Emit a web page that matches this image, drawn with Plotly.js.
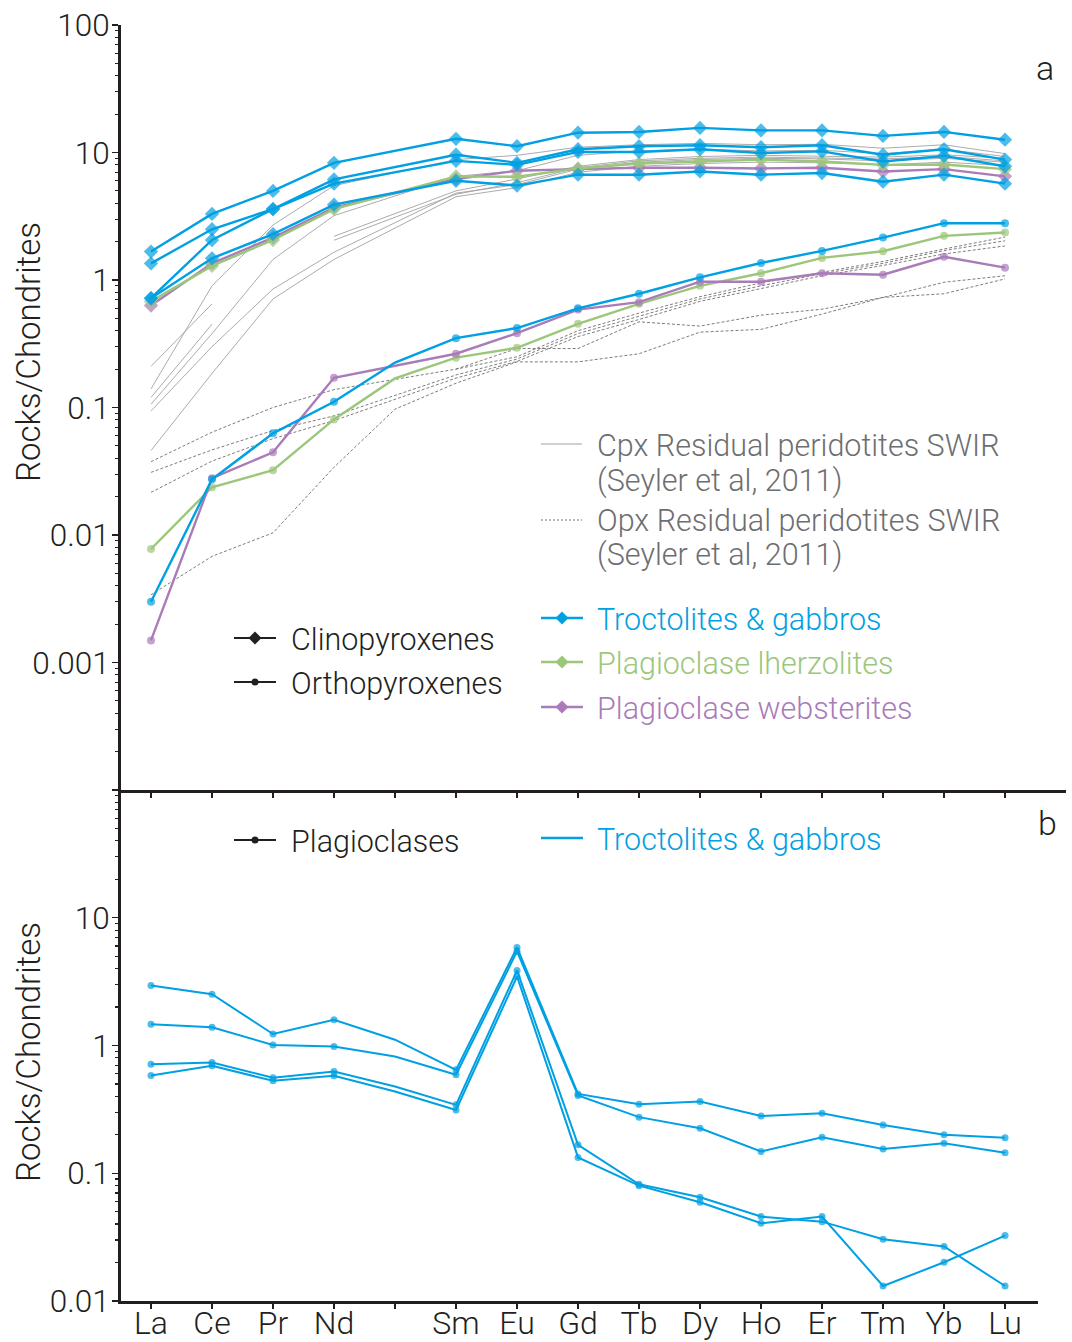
<!DOCTYPE html>
<html><head><meta charset="utf-8">
<script src="https://cdn.plot.ly/plotly-3.0.1.min.js"></script>
<style>html,body{margin:0;padding:0;background:#fff}#chart{width:1072px;height:1342px}</style>
</head><body><div id="chart"></div>
<script>
// ---------- categories ----------
const elements   = ['La','Ce','Pr','Nd','Pm','Sm','Eu','Gd','Tb','Dy','Ho','Er','Tm','Yb','Lu'];
const tickLabels = ['La','Ce','Pr','Nd','','Sm','Eu','Gd','Tb','Dy','Ho','Er','Tm','Yb','Lu'];

// ---------- panel a : clinopyroxenes (diamonds) ----------
const cpxTroct1 = [1.67, 3.3, 5.0, 8.3, null, 12.8, 11.2, 14.3, 14.5, 15.6, 14.9, 14.9, 13.5, 14.5, 12.6];
const cpxTroct2 = [1.35, 2.5, 3.6, 6.15, null, 9.6, 8.3, 10.6, 11.2, 11.4, 11.0, 11.4, 9.6, 10.6, 8.8];
const cpxTroct3 = [0.72, 2.06, 3.6, 5.7, null, 8.6, 8.0, 10.1, 10.1, 10.6, 9.9, 10.2, 8.5, 9.4, 7.8];
const cpxTroct4 = [0.72, 1.48, 2.29, 3.9, null, 6.0, 5.5, 6.7, 6.7, 7.1, 6.7, 6.9, 5.9, 6.7, 5.7];
const cpxLherz  = [0.68, 1.29, 2.06, 3.6, null, 6.5, 6.45, 7.5, 8.2, 8.5, 8.8, 8.5, 8.0, 8.05, 7.4];
const cpxWebst  = [0.63, 1.35, 2.15, 3.7, null, 6.2, 7.2, 7.4, 7.6, 7.6, 7.5, 7.6, 7.1, 7.4, 6.5];

// ---------- panel a : orthopyroxenes (dots) ----------
const opxTroct = [0.0030, 0.0274, 0.0627, 0.111, 0.225, 0.35, 0.42, 0.60, 0.78, 1.05, 1.36, 1.69, 2.15, 2.79, 2.79];
const opxLherz = [0.00777, 0.0237, 0.0322, 0.0806, 0.169, 0.246, 0.294, 0.453, 0.65, 0.90, 1.13, 1.49, 1.68, 2.22, 2.36];
const opxWebst = [0.00149, 0.0279, 0.0445, 0.171, null, 0.264, 0.383, 0.586, 0.67, 0.97, 0.97, 1.13, 1.10, 1.52, 1.25];

// ---------- panel a : Seyler et al. 2011 residual peridotites ----------
const seylerCpx1 = [0.21, 0.65, null, null, null, null, null, null, null, null, null, null, null, null, null];
const seylerCpx2 = [0.14, 0.9, 2.7, 5.5, null, 8.8, 9.5, 11.0, 11.5, 11.8, 11.5, 11.6, 10.8, 11.5, 9.8];
const seylerCpx3 = [0.106, 0.38, 1.45, 3.2, null, 6.5, 7.2, 9.5, 10.3, 10.6, 10.3, 10.4, 9.8, 10.6, 9.3];
const seylerCpx4 = [0.094, 0.3, 0.85, 1.65, null, 4.8, 5.6, 7.4, 8.4, 8.8, 9.0, 8.9, 8.6, 9.0, 8.4];
const seylerCpx5 = [0.046, 0.185, 0.71, 1.45, null, 4.5, 5.3, 7.0, 7.8, 8.2, 8.4, 8.3, 8.0, 8.4, 7.9];
const seylerCpx6 = [null, null, null, 2.2, null, 5.0, 6.2, 7.8, 8.8, 9.3, 9.5, 9.4, 9.2, 9.6, 9.0];
const seylerCpx7 = [null, null, null, 2.05, null, 4.7, 5.8, 7.6, 8.6, 9.0, 9.2, 9.1, 8.9, 9.3, 8.6];
const seylerCpx8 = [0.12, 0.45, null, null, null, null, null, null, null, null, null, null, null, null, null];

const seylerOpx1 = [0.0376, 0.064, 0.1, 0.138, null, 0.2, 0.25, 0.40, 0.55, 0.74, 0.95, 1.15, 1.4, 1.75, 2.17];
const seylerOpx2 = [0.031, 0.0465, 0.066, 0.086, null, 0.18, 0.24, 0.38, 0.52, 0.71, 0.9, 1.12, 1.35, 1.7, 2.03];
const seylerOpx3 = [0.0216, 0.038, 0.057, 0.079, null, 0.17, 0.23, 0.36, 0.49, 0.68, 0.86, 1.08, 1.3, 1.6, 1.85];
const seylerOpx4 = [null, null, null, null, null, 0.2, 0.29, 0.29, 0.47, 0.435, 0.53, 0.59, 0.73, 0.96, 1.08];
const seylerOpx5 = [0.0034, 0.0068, 0.0104, 0.034, 0.097, 0.155, 0.228, 0.228, 0.264, 0.39, 0.41, 0.54, 0.73, 0.78, 1.02];

// ---------- panel b : plagioclases ----------
const plag1 = [2.95, 2.52, 1.23, 1.59, 1.11, 0.645, 5.85, 0.418, 0.347, 0.364, 0.281, 0.295, 0.239, 0.200, 0.190];
const plag2 = [1.47, 1.39, 1.01, 0.98, 0.82, 0.59, 5.45, 0.406, 0.275, 0.225, 0.148, 0.191, 0.155, 0.172, 0.145];
const plag3 = [0.714, 0.736, 0.56, 0.625, 0.477, 0.343, 3.87, 0.167, 0.082, 0.0649, 0.0458, 0.0418, 0.0304, 0.0267, 0.0131];
const plag4 = [0.582, 0.693, 0.529, 0.579, 0.436, 0.313, 3.47, 0.133, 0.080, 0.0593, 0.0406, 0.0458, 0.0131, 0.0201, 0.0325];

// ---------- styles ----------
const BLUE = '#00a0e3', GREEN = '#9cc67a', PURPLE = '#a97bb9', INK = '#231f20';
const GREY_SOLID = '#a2a2a2', GREY_DASH = '#6e6e6e', LEGEND_GREY = '#6d6e71';
const FONT = 'Roboto, "Helvetica Neue", Helvetica, Arial, sans-serif';
const TICK_SIZE = 31.5, XTICK_SIZE = 32, LEG_SIZE = 30.5, TITLE_SIZE = 33;

// marker sizes: no marker on the (Pm) position
function sizes(s){ return elements.map(e => e === 'Pm' ? 0 : s); }

const traces = [];
function grey(y, dashed){
  traces.push({x: elements, y: y, xaxis:'x2', yaxis:'y2', mode:'lines', connectgaps:true,
    line:{color: dashed ? GREY_DASH : GREY_SOLID, width:0.9, dash: dashed ? '3px,2px' : 'solid'},
    hoverinfo:'skip'});
}
[seylerCpx1,seylerCpx2,seylerCpx3,seylerCpx4,seylerCpx5,seylerCpx6,seylerCpx7,seylerCpx8].forEach(s=>grey(s,false));
[seylerOpx1,seylerOpx2,seylerOpx3,seylerOpx4,seylerOpx5].forEach(s=>grey(s,true));

function series(y, color, symbol, size, width, xa, ya){
  traces.push({x: elements, y: y, xaxis:xa, yaxis:ya, mode:'lines+markers', connectgaps:true,
    line:{color: color, width: width},
    marker:{symbol: symbol, size: sizes(size), color: color, line:{width:0}}});
}
series(opxLherz, GREEN, 'circle', 8, 2.4, 'x2', 'y2');
series(opxWebst, PURPLE, 'circle', 8, 2.4, 'x2', 'y2');
series(opxTroct, BLUE, 'circle', 8, 2.4, 'x2', 'y2');
series(cpxWebst, PURPLE, 'diamond', 11, 2.4, 'x2', 'y2');
series(cpxLherz, GREEN, 'diamond', 11, 2.4, 'x2', 'y2');
[cpxTroct4, cpxTroct3, cpxTroct2, cpxTroct1].forEach(s => series(s, BLUE, 'diamond', 11, 2.4, 'x2', 'y2'));
[plag1, plag2, plag3, plag4].forEach(s => series(s, BLUE, 'circle', 7, 2, 'x', 'y'));

// ---------- layout helpers (page pixels -> paper) ----------
const W = 1072, H = 1342;
const px = v => v / W, py = v => 1 - v / H;

function minorVals(lo, hi){
  const out = [];
  for (let d = lo; d < hi; d++) for (let m = 2; m <= 9; m++) out.push(m * Math.pow(10, d));
  return out;
}

const axisCommon = {showgrid:false, zeroline:false, showline:true, linecolor:INK, linewidth:2.5,
  ticks:'outside', tickcolor:INK, tickwidth:1.4};

const layout = {
  width: W, height: H, margin:{l:0, r:0, t:0, b:0},
  paper_bgcolor:'#ffffff', plot_bgcolor:'rgba(0,0,0,0)', showlegend:false,
  font:{family: FONT, size: 29, color: INK, weight: 300},
  xaxis: Object.assign({}, axisCommon, {
    domain:[px(120.5), px(1038)], anchor:'y', type:'category',
    categoryorder:'array', categoryarray: elements, range:[-0.5, 14.54],
    tickmode:'array', tickvals: elements, ticktext: tickLabels, ticklen:5, ticklabelstandoff:-13,
    tickfont:{family: FONT, size: XTICK_SIZE, color: INK, weight:300}}),
  yaxis: Object.assign({}, axisCommon, {
    domain:[py(1301), py(790)], anchor:'x', type:'log', range:[-2, 2],
    tickmode:'array', tickvals:[0.01, 0.1, 1, 10, 100], ticktext:['0.01','0.1','1','10',''],
    ticklen:6, ticklabelstandoff:-4, tickfont:{family: FONT, size: TICK_SIZE, color: INK, weight:300},
    minor:{tickmode:'array', tickvals: minorVals(-2, 2), ticks:'outside', ticklen:3.5, tickcolor:INK, tickwidth:1.2}}),
  xaxis2: Object.assign({}, axisCommon, {
    domain:[px(120.5), px(1066)], anchor:'y2', type:'category',
    categoryorder:'array', categoryarray: elements, range:[-0.5, 15.0],
    tickmode:'array', tickvals: elements, showticklabels:false, ticklen:5}),
  yaxis2: Object.assign({}, axisCommon, {
    domain:[py(790), py(25)], anchor:'x2', type:'log', range:[-4, 2],
    tickmode:'array', tickvals:[0.0001, 0.001, 0.01, 0.1, 1, 10, 100],
    ticktext:['', '0.001','0.01','0.1','1','10','100'],
    ticklen:6, ticklabelstandoff:-4, tickfont:{family: FONT, size: TICK_SIZE, color: INK, weight:300},
    minor:{tickmode:'array', tickvals: minorVals(-4, 2), ticks:'outside', ticklen:3.5, tickcolor:INK, tickwidth:1.2}}),
  annotations: [], shapes: []
};

function text(str, x, y, color, size, anchor){
  layout.annotations.push({text: str, xref:'paper', yref:'paper', x: px(x), y: py(y),
    xanchor: anchor || 'left', yanchor:'middle', showarrow:false,
    font:{family: FONT, size: size || LEG_SIZE, color: color, weight:300}});
}
function swatchLine(x0, x1, y, color, width, dash){
  layout.shapes.push({type:'line', xref:'paper', yref:'paper', x0: px(x0), x1: px(x1), y0: py(y), y1: py(y),
    line:{color: color, width: width, dash: dash || 'solid'}});
}
function swatchDiamond(x, y, color, r){
  layout.shapes.push({type:'path', xref:'paper', yref:'paper', xsizemode:'pixel', ysizemode:'pixel',
    xanchor: px(x), yanchor: py(y), path:`M${-r},0L0,${r}L${r},0L0,${-r}Z`, fillcolor: color, line:{width:0}});
}
function swatchDot(x, y, color, r){
  layout.shapes.push({type:'circle', xref:'paper', yref:'paper', xsizemode:'pixel', ysizemode:'pixel',
    xanchor: px(x), yanchor: py(y), x0:-r, x1:r, y0:-r, y1:r, fillcolor: color, line:{width:0}});
}

// y-axis titles
layout.annotations.push({text:'Rocks/Chondrites', xref:'paper', yref:'paper', x: px(28), y: py(352),
  xanchor:'center', yanchor:'middle', textangle:-90, showarrow:false, font:{family: FONT, size:TITLE_SIZE, color: INK, weight:300}});
layout.annotations.push({text:'Rocks/Chondrites', xref:'paper', yref:'paper', x: px(28), y: py(1052),
  xanchor:'center', yanchor:'middle', textangle:-90, showarrow:false, font:{family: FONT, size:TITLE_SIZE, color: INK, weight:300}});

// panel labels
text('a', 1045, 68, INK, 34, 'center');
text('b', 1047, 823, INK, 34, 'center');

// panel a legend
swatchLine(541, 582, 444, GREY_SOLID, 1);
text('Cpx Residual peridotites SWIR', 595, 445, LEGEND_GREY);
text('(Seyler et al, 2011)', 595, 481, LEGEND_GREY);
swatchLine(541, 582, 520, GREY_DASH, 1, '2px,2px');
text('Opx Residual peridotites SWIR', 595, 520, LEGEND_GREY);
text('(Seyler et al, 2011)', 595, 555, LEGEND_GREY);

[[618, BLUE, 'Troctolites &amp; gabbros'], [662, GREEN, 'Plagioclase lherzolites'], [707, PURPLE, 'Plagioclase websterites']]
  .forEach(([y, c, t]) => { swatchLine(541, 583, y, c, 2.5); swatchDiamond(562, y, c, 6.5); text(t, 595, y + 1, c); });

swatchLine(234, 276, 638, INK, 2); swatchDiamond(255, 638, INK, 6.5); text('Clinopyroxenes', 289, 639, INK);
swatchLine(234, 276, 682, INK, 2); swatchDot(255, 682, INK, 3.5); text('Orthopyroxenes', 289, 683, INK);

// panel b legend
swatchLine(234, 276, 840, INK, 2); swatchDot(255, 840, INK, 3.5); text('Plagioclases', 289, 841, INK);
swatchLine(541, 583, 838, BLUE, 2.5); text('Troctolites &amp; gabbros', 595, 839, BLUE);

Plotly.newPlot('chart', traces, layout, {staticPlot:true, displayModeBar:false});
</script></body></html>
